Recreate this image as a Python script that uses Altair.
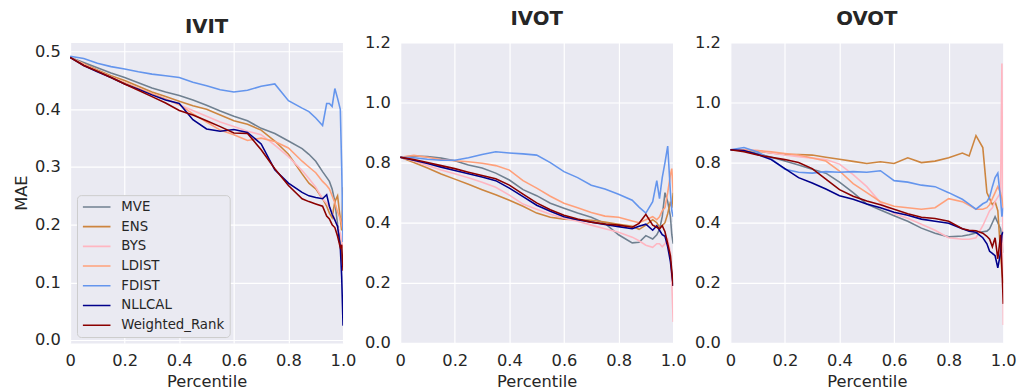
import altair as alt
import pandas as pd

X = [0.00, 0.05, 0.10, 0.15, 0.20, 0.25, 0.30, 0.35, 0.40, 0.45, 0.50, 0.55, 0.60, 0.65,
     0.70, 0.75, 0.80, 0.85, 0.875, 0.90, 0.925, 0.94, 0.95, 0.96, 0.97, 0.98, 0.99, 0.995, 1.00]

METHODS = ["MVE", "ENS", "BYS", "LDIST", "FDIST", "NLLCAL", "Weighted_Rank"]
COLORS = ["slategray", "peru", "lightpink", "lightsalmon", "cornflowerblue", "darkblue", "darkred"]
PANELS = ["IVIT", "IVOT", "OVOT"]

# ---- IVIT ----
IVIT_MVE = [0.490, 0.481, 0.472, 0.463, 0.455, 0.446, 0.437, 0.430, 0.424, 0.416, 0.407, 0.397, 0.388, 0.380,
            0.367, 0.358, 0.345, 0.332, 0.322, 0.310, 0.292, 0.282, 0.275, 0.262, 0.240, 0.200, 0.170, 0.140, 0.130]
IVIT_ENS = [0.490, 0.479, 0.468, 0.458, 0.450, 0.440, 0.430, 0.422, 0.414, 0.406, 0.400, 0.390, 0.380, 0.374,
            0.364, 0.345, 0.322, 0.288, 0.272, 0.262, 0.245, 0.232, 0.220, 0.212, 0.240, 0.250, 0.210, 0.190, 0.265]
IVIT_BYS = [0.490, 0.478, 0.466, 0.455, 0.445, 0.436, 0.426, 0.418, 0.408, 0.398, 0.388, 0.378, 0.370, 0.362,
            0.356, 0.338, 0.318, 0.294, 0.280, 0.265, 0.245, 0.237, 0.230, 0.220, 0.210, 0.195, 0.185, 0.170, 0.160]
IVIT_LDIST = [0.490, 0.478, 0.467, 0.456, 0.446, 0.436, 0.427, 0.418, 0.408, 0.392, 0.378, 0.364, 0.356, 0.346,
              0.350, 0.344, 0.333, 0.310, 0.300, 0.290, 0.275, 0.268, 0.262, 0.250, 0.238, 0.222, 0.210, 0.200, 0.190]
IVIT_FDIST = [0.492, 0.488, 0.480, 0.474, 0.470, 0.465, 0.461, 0.458, 0.455, 0.447, 0.441, 0.434, 0.430, 0.433,
              0.440, 0.444, 0.415, 0.402, 0.396, 0.385, 0.372, 0.410, 0.410, 0.405, 0.436, 0.419, 0.400, 0.300, 0.170]
IVIT_NLLCAL = [0.490, 0.476, 0.465, 0.455, 0.444, 0.435, 0.425, 0.416, 0.410, 0.382, 0.366, 0.362, 0.365, 0.360,
               0.340, 0.295, 0.272, 0.256, 0.250, 0.247, 0.245, 0.252, 0.232, 0.218, 0.208, 0.197, 0.160, 0.110, 0.025]
IVIT_WR = [0.490, 0.476, 0.466, 0.455, 0.444, 0.433, 0.422, 0.411, 0.398, 0.390, 0.380, 0.370, 0.359, 0.358,
           0.330, 0.297, 0.268, 0.245, 0.240, 0.236, 0.232, 0.215, 0.210, 0.200, 0.195, 0.180, 0.160, 0.165, 0.120]

# ---- IVOT (positions on the evenly spaced grid; labels as printed) ----
IVOT_MVE = [0.618, 0.622, 0.620, 0.615, 0.606, 0.592, 0.582, 0.565, 0.542, 0.510, 0.490, 0.465, 0.448, 0.432,
            0.418, 0.398, 0.360, 0.333, 0.335, 0.357, 0.346, 0.360, 0.378, 0.420, 0.500, 0.470, 0.420, 0.360, 0.330]
IVOT_ENS = [0.618, 0.600, 0.582, 0.562, 0.545, 0.528, 0.510, 0.493, 0.475, 0.455, 0.432, 0.418, 0.412, 0.410,
            0.408, 0.402, 0.395, 0.388, 0.378, 0.392, 0.410, 0.400, 0.385, 0.390, 0.400, 0.430, 0.470, 0.450, 0.500]
IVOT_BYS = [0.618, 0.605, 0.590, 0.575, 0.563, 0.550, 0.535, 0.518, 0.492, 0.462, 0.445, 0.428, 0.415, 0.405,
            0.392, 0.380, 0.368, 0.352, 0.340, 0.325, 0.318, 0.330, 0.330, 0.320, 0.330, 0.345, 0.300, 0.200, 0.070]
IVOT_LDIST = [0.618, 0.624, 0.618, 0.610, 0.606, 0.603, 0.598, 0.590, 0.575, 0.540, 0.515, 0.488, 0.465, 0.450,
              0.434, 0.422, 0.418, 0.406, 0.400, 0.410, 0.420, 0.410, 0.420, 0.440, 0.450, 0.500, 0.560, 0.580, 0.500]
IVOT_FDIST = [0.618, 0.616, 0.611, 0.608, 0.608, 0.616, 0.627, 0.636, 0.632, 0.629, 0.625, 0.600, 0.570, 0.550,
              0.525, 0.512, 0.495, 0.475, 0.452, 0.432, 0.470, 0.540, 0.480, 0.550, 0.600, 0.655, 0.500, 0.440, 0.420]
IVOT_NLLCAL = [0.618, 0.608, 0.597, 0.585, 0.574, 0.563, 0.552, 0.540, 0.515, 0.487, 0.458, 0.438, 0.420, 0.410,
               0.402, 0.394, 0.387, 0.380, 0.388, 0.395, 0.375, 0.390, 0.375, 0.360, 0.355, 0.320, 0.270, 0.230, 0.190]
IVOT_WR = [0.618, 0.610, 0.600, 0.590, 0.580, 0.568, 0.557, 0.546, 0.525, 0.495, 0.466, 0.443, 0.425, 0.412,
           0.402, 0.396, 0.392, 0.385, 0.398, 0.428, 0.392, 0.385, 0.380, 0.390, 0.370, 0.330, 0.290, 0.240, 0.190]

# ---- OVOT ----
OVOT_MVE = [0.643, 0.640, 0.630, 0.618, 0.605, 0.592, 0.578, 0.565, 0.535, 0.500, 0.462, 0.442, 0.423, 0.405,
            0.382, 0.365, 0.353, 0.356, 0.360, 0.366, 0.370, 0.372, 0.380, 0.400, 0.420, 0.400, 0.380, 0.350, 0.300]
OVOT_ENS = [0.643, 0.642, 0.638, 0.632, 0.627, 0.627, 0.625, 0.618, 0.611, 0.604, 0.597, 0.603, 0.597, 0.616,
            0.600, 0.605, 0.616, 0.632, 0.622, 0.690, 0.650, 0.500, 0.480, 0.460, 0.470, 0.440, 0.300, 0.240, 0.200]
OVOT_BYS = [0.643, 0.642, 0.640, 0.632, 0.625, 0.620, 0.615, 0.610, 0.595, 0.560, 0.520, 0.467, 0.430, 0.415,
            0.395, 0.375, 0.350, 0.345, 0.345, 0.350, 0.390, 0.420, 0.440, 0.450, 0.470, 0.485, 0.500, 0.930, 0.060]
OVOT_LDIST = [0.643, 0.642, 0.640, 0.636, 0.630, 0.625, 0.615, 0.605, 0.572, 0.530, 0.500, 0.470, 0.455, 0.450,
              0.445, 0.450, 0.480, 0.470, 0.458, 0.445, 0.445, 0.450, 0.460, 0.480, 0.500, 0.520, 0.500, 0.480, 0.450]
OVOT_FDIST = [0.643, 0.650, 0.635, 0.612, 0.578, 0.568, 0.565, 0.570, 0.568, 0.570, 0.568, 0.573, 0.540, 0.535,
              0.525, 0.520, 0.500, 0.478, 0.462, 0.445, 0.463, 0.470, 0.486, 0.520, 0.550, 0.565, 0.480, 0.420, 0.450]
OVOT_NLLCAL = [0.643, 0.640, 0.627, 0.610, 0.580, 0.550, 0.532, 0.512, 0.490, 0.478, 0.462, 0.450, 0.435, 0.425,
               0.412, 0.405, 0.398, 0.380, 0.372, 0.368, 0.350, 0.330, 0.305, 0.298, 0.290, 0.250, 0.300, 0.360, 0.370]
OVOT_WR = [0.643, 0.636, 0.625, 0.618, 0.610, 0.600, 0.580, 0.545, 0.510, 0.488, 0.472, 0.460, 0.445, 0.430,
           0.418, 0.414, 0.405, 0.380, 0.375, 0.373, 0.365, 0.355, 0.345, 0.320, 0.350, 0.280, 0.360, 0.250, 0.130]

SERIES = {
    "IVIT": [IVIT_MVE, IVIT_ENS, IVIT_BYS, IVIT_LDIST, IVIT_FDIST, IVIT_NLLCAL, IVIT_WR],
    "IVOT": [IVOT_MVE, IVOT_ENS, IVOT_BYS, IVOT_LDIST, IVOT_FDIST, IVOT_NLLCAL, IVOT_WR],
    "OVOT": [OVOT_MVE, OVOT_ENS, OVOT_BYS, OVOT_LDIST, OVOT_FDIST, OVOT_NLLCAL, OVOT_WR],
}

rows = []
for p in PANELS:
    for m, vals in zip(METHODS, SERIES[p]):
        for k, (xv, yv) in enumerate(zip(X, vals)):
            rows.append({"panel": p, "method": m, "x": xv, "y": yv, "k": k})
df = pd.DataFrame(rows)

FONT = "DejaVu Sans"
TXT = "#262626"


def panel(name, ydomain, yvalues, ylabel_expr, ytitle, show_legend):
    d = df[df.panel == name]
    if show_legend:
        legend = alt.Legend(title=None, orient="none", legendX=7, legendY=155,
                            symbolType="stroke", symbolSize=784, symbolStrokeWidth=1.6,
                            labelFont=FONT, labelFontSize=13.5, labelColor=TXT, labelOffset=10,
                            clipHeight=14, rowPadding=6,
                            fillColor="#EAEAF2", strokeColor="#CCCCCC", cornerRadius=4,
                            padding=5)
    else:
        legend = None
    yaxis = alt.Axis(values=yvalues, labelExpr=ylabel_expr, title=ytitle)
    return alt.Chart(d).mark_line(strokeWidth=1.6, clip=True).encode(
        x=alt.X("x:Q", scale=alt.Scale(domain=[0, 1], nice=False, zero=False),
                axis=alt.Axis(values=[0, 0.2, 0.4, 0.6, 0.8, 1.0],
                              labelExpr="datum.value == 0 ? '0' : format(datum.value, '.1f')",
                              title="Percentile")),
        y=alt.Y("y:Q", scale=alt.Scale(domain=ydomain, nice=False, zero=False), axis=yaxis),
        color=alt.Color("method:N", scale=alt.Scale(domain=METHODS, range=COLORS), legend=legend),
        order=alt.Order("k:Q"),
    ).properties(width=277, height=305, title=name)


c1 = panel("IVIT", [-0.005, 0.516], [0, 0.1, 0.2, 0.3, 0.4, 0.5],
           "format(datum.value, '.1f')", "MAE", True)
label23 = "datum.value < 0.5 ? format(datum.value, '.1f') : format(datum.value + 0.2, '.1f')"
c2 = panel("IVOT", [0, 1.0], [0, 0.2, 0.4, 0.6, 0.8, 1.0], label23, None, False)
c3 = panel("OVOT", [0, 1.0], [0, 0.2, 0.4, 0.6, 0.8, 1.0], label23, None, False)

chart = alt.hconcat(c1, c2, c3, spacing=58, bounds="flush").resolve_scale(
    color="independent"
).properties(
    padding={"top": -3, "left": 5, "right": 5, "bottom": 5}
).configure_view(
    fill="#EAEAF2", stroke="transparent"
).configure_axis(
    grid=True, gridColor="white", gridWidth=1.2, domain=False, ticks=False,
    labelFont=FONT, labelFontSize=16.5, labelColor=TXT, labelFlush=False,
    titleFont=FONT, titleFontSize=16.5, titleColor=TXT, titleFontWeight="normal"
).configure_axisX(
    labelPadding=10, titlePadding=5
).configure_axisY(
    labelPadding=10, titlePadding=5
).configure_title(
    font=FONT, fontSize=20, fontWeight="bold", color=TXT, offset=6
)

chart.save("out.html", embed_options={"renderer": "svg", "actions": False})
